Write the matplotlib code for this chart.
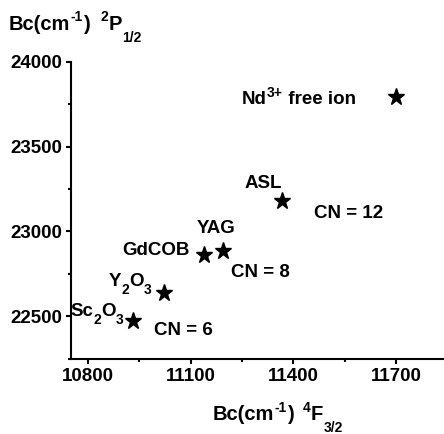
import matplotlib
matplotlib.use("Agg")
import matplotlib.pyplot as plt
from matplotlib.ticker import MultipleLocator
from matplotlib.transforms import IdentityTransform

plt.rcParams['font.family'] = ['Liberation Sans', 'DejaVu Sans']
plt.rcParams['font.weight'] = 'bold'

# ---- data ----
hosts = ['Nd free ion', 'ASL', 'YAG', 'GdCOB', 'Y2O3', 'Sc2O3']
bc_F32 = [11700, 11366, 11194, 11139, 11023, 10932]
bc_P12 = [23790, 23176, 22882, 22863, 22638, 22471]
cn_labels = ['CN = 12', 'CN = 8', 'CN = 6']
cn_x = [11560, 11305, 11077]
cn_y = [23107, 22757, 22416]
x_ticks = [10800, 11100, 11400, 11700]
y_ticks = [22500, 23000, 23500, 24000]

W, H = 444, 434
MAIN, SMALL = 13.5, 10
AX_MAIN, AX_SMALL = 14.5, 10

fig = plt.figure(figsize=(W / 100, H / 100), dpi=100)
ax = fig.add_axes([71 / W, 1 - 358.5 / H, 1 - 71 / W, (358.5 - 61.7) / H])

ax.plot(bc_F32, bc_P12, linestyle='none', marker='*', markersize=12.5,
        color='black', markeredgecolor='black')

ax.set_xlim(10750, 11840)
ax.set_ylim(22250, 24000)
ax.set_xticks(x_ticks)
ax.set_yticks(y_ticks)
ax.xaxis.set_minor_locator(MultipleLocator(150))
ax.yaxis.set_minor_locator(MultipleLocator(250))
for s in ['top', 'right']:
    ax.spines[s].set_visible(False)
for s in ['left', 'bottom']:
    ax.spines[s].set_linewidth(1.5)
ax.tick_params(which='major', direction='out', length=3.5, width=1.5, labelsize=MAIN)
ax.tick_params(axis='x', which='major', pad=3.5)
ax.tick_params(axis='y', which='major', pad=3)
ax.tick_params(which='minor', direction='out', length=2.2, width=1.5)
for lab in ax.get_xticklabels() + ax.get_yticklabels():
    lab.set_fontweight('bold')

renderer = fig.canvas.get_renderer()


def rich(x, base_top, pieces, ha='left'):
    """pieces: (text, size, rise_px, gap_before_px); x, base_top in px from top-left."""
    texts, widths = [], []
    for s, size, rise, gap in pieces:
        t = fig.text(0, 0, s, fontsize=size, fontweight='bold',
                     transform=IdentityTransform(), ha='left', va='baseline')
        widths.append(t.get_window_extent(renderer).width)
        texts.append(t)
    total = sum(w + p[3] for w, p in zip(widths, pieces))
    cur = x if ha == 'left' else (x - total if ha == 'right' else x - total / 2)
    for t, w, (s, size, rise, gap) in zip(texts, widths, pieces):
        cur += gap
        t.set_position((cur, H - base_top + rise))
        cur += w


def sub_formula(a, b, c, d):
    return [(a, MAIN, 0, 0), (b, SMALL, -7.5, 0), (c, MAIN, 0, 0), (d, SMALL, -7.5, 0)]


label_pieces = [
    [('Nd', MAIN, 0, 0), ('3+', SMALL, 7.5, 0.5), (' free ion', MAIN, 0, 0)],
    [('ASL', MAIN, 0, 0)],
    [('YAG', MAIN, 0, 0)],
    [('GdCOB', MAIN, 0, 0)],
    sub_formula('Y', '2', 'O', '3'),
    sub_formula('Sc', '2', 'O', '3'),
]
# (dx, d_baseline, ha) relative to the star, px
label_layout = [(-40, 7, 'right'), (0, -13, 'right'), (-6.5, -18.5, 'center'),
                (-14, 0, 'right'), (-13, -6.6, 'right'), (-10, -5, 'right')]

for pieces, x, y, (dx, dy, ha) in zip(label_pieces, bc_F32, bc_P12, label_layout):
    px, py = ax.transData.transform((x, y))
    rich(px + dx, (H - py) + dy, pieces, ha=ha)

for t, x, y in zip(cn_labels, cn_x, cn_y):
    ax.text(x, y, t, ha='center', va='center', fontsize=MAIN, fontweight='bold')

# axis titles
rich(9, 29.5, [('Bc(cm', AX_MAIN, 0, 0), ('-1', AX_SMALL, 8.5, 0.5), (')', AX_MAIN, 0, 0.5),
               ('2', AX_SMALL, 8.5, 10), ('P', AX_MAIN, 0, 0.5), ('1/2', AX_SMALL, -12, 0.5)])
rich(213, 420, [('Bc(cm', AX_MAIN, 0, 0), ('-1', AX_SMALL, 8.5, 0.5), (')', AX_MAIN, 0, 0.5),
                ('4', AX_SMALL, 8.5, 8.5), ('F', AX_MAIN, 0, 0.5), ('3/2', AX_SMALL, -12, 0.5)])

fig.savefig('out.png', dpi=100)
